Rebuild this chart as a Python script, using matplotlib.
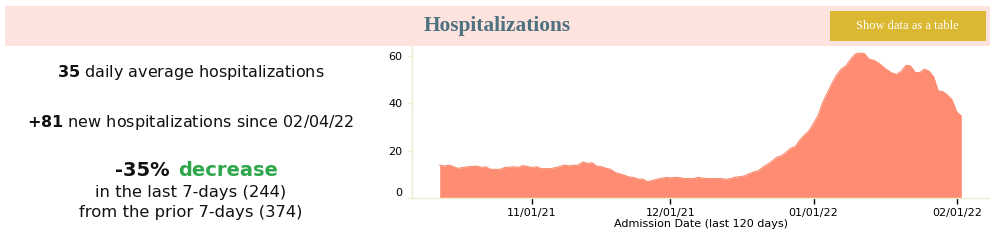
import numpy as np
import pandas as pd
import matplotlib.pyplot as plt
import matplotlib.dates as mdates
from matplotlib.patches import Rectangle

# 7-day average daily hospitalizations, 10/12/21 .. 02/02/22
dates = pd.date_range('2021-10-12', periods=114, freq='D')
hosp = [13.9, 13.5, 13.9, 13.2, 12.5, 12.9, 13.2, 13.3, 13.5, 12.9,
        13.2, 12.1, 12.1, 12.1, 12.8, 13.0, 13.2, 12.9, 13.7, 13.3,
        12.9, 13.2, 12.4, 12.4, 12.4, 12.8, 13.3, 13.9, 13.6, 13.8,
        13.9, 15.2, 14.6, 14.9, 13.5, 13.2, 12.6, 12.1, 10.8, 10.2,
        9.6, 8.9, 8.7, 8.0, 8.0, 6.9, 7.4, 7.9, 8.3, 8.7,
        8.5, 8.7, 8.6, 8.2, 8.2, 8.2, 8.7, 8.4, 8.2, 8.2,
        8.2, 8.2, 7.9, 8.2, 8.8, 9.0, 9.3, 10.2, 11.0, 11.5,
        13.0, 14.2, 15.6, 17.2, 17.8, 19.2, 21.0, 21.7, 24.5, 26.5,
        28.4, 31.5, 35.0, 40.5, 44.5, 48.5, 52.0, 54.5, 55.8, 58.5,
        60.8, 61.2, 61.0, 58.6, 58.2, 57.1, 55.5, 54.0, 52.8, 52.2,
        53.6, 56.0, 55.8, 53.0, 53.0, 54.4, 53.6, 51.2, 45.3, 44.9,
        43.5, 41.4, 36.4, 34.6]
tick_dates = pd.to_datetime(['2021-11-01', '2021-12-01', '2022-01-01', '2022-02-01'])
y_ticks = [0, 20, 40, 60]

W, H = 994, 240
fig = plt.figure(figsize=(W / 100, H / 100), dpi=100)

# header band and button
fig.patches.append(Rectangle((5 / W, 1 - 46 / H), 985 / W, 40 / H, transform=fig.transFigure,
                             facecolor='#fde3de', edgecolor='none', zorder=0))
fig.patches.append(Rectangle((830 / W, 1 - 41 / H), 156 / W, 30 / H, transform=fig.transFigure,
                             facecolor='#dbb832', edgecolor='none', zorder=1))
fig.text(497 / W, 1 - 26 / H, 'Hospitalizations', ha='center', va='center',
         family='Liberation Serif', weight='bold', fontsize=15.4, color='#4e717f')
fig.text(907 / W, 1 - 26 / H, 'Show data as a table', ha='center', va='center',
         family='Liberation Serif', fontsize=9, color='white')

# summary text on the left
cx = 191 / W
fig.text(cx, 1 - 73 / H, r'$\mathbf{35}$ daily average hospitalizations', ha='center',
         va='center', fontsize=11.5, color='#111111')
fig.text(cx, 1 - 122 / H, r'$\mathbf{+81}$ new hospitalizations since 02/04/22', ha='center',
         va='center', fontsize=11.5, color='#111111')
fig.text(170 / W, 1 - 170 / H, '-35%', ha='right', va='center', fontsize=14,
         weight='bold', color='#111111')
fig.text(178 / W, 1 - 170 / H, 'decrease', ha='left', va='center', fontsize=14,
         weight='bold', color='#2ea64b')
fig.text(cx, 1 - 192 / H, 'in the last 7-days (244)', ha='center', va='center',
         fontsize=11.8, color='#111111')
fig.text(cx, 1 - 212 / H, 'from the prior 7-days (374)', ha='center', va='center',
         fontsize=11.8, color='#111111')

# area chart
ax = fig.add_axes([412 / W, 1 - 198 / H, 577 / W, 152 / H])
ax.fill_between(dates, 0, hosp, color='#fd8c73', linewidth=0)
ax.plot(dates, hosp, color='#f98d70', linewidth=0.8)
ax.set_xlim(pd.Timestamp('2021-10-06'), pd.Timestamp('2022-02-08'))
ax.set_ylim(0, 64.2)
ax.set_xticks(tick_dates)
ax.xaxis.set_major_formatter(mdates.DateFormatter('%m/%d/%y'))
ax.set_yticks(y_ticks)
ax.tick_params(axis='x', length=4, width=1, color='black', labelsize=8, pad=3)
ax.tick_params(axis='y', length=3, width=1, color='#eeeecc', labelsize=8, pad=4)
for s in ['top', 'right']:
    ax.spines[s].set_visible(False)
for s in ['left', 'bottom']:
    ax.spines[s].set_color('#eeeecc')
    ax.spines[s].set_linewidth(1)
ax.set_xlabel('Admission Date (last 120 days)', fontsize=8, labelpad=1)
ax.yaxis.get_major_ticks()[0].label1.set_verticalalignment('bottom')

fig.savefig('out.png', dpi=100)
